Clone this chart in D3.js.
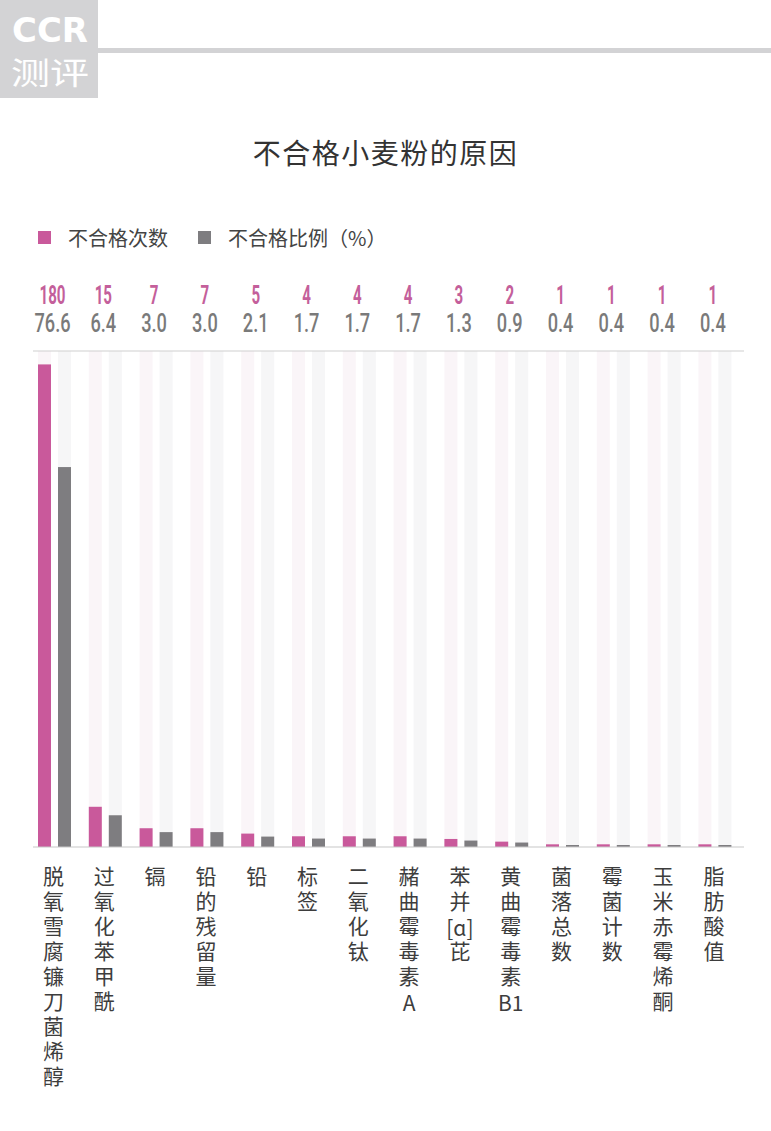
<!DOCTYPE html>
<html>
<head>
<meta charset="utf-8">
<script src="https://cdn.jsdelivr.net/npm/d3@7"></script>
<style>
  body { margin: 0; background: #fff; }
  svg { display: block; }
  text { font-family: "Noto Sans CJK SC", "Noto Sans", sans-serif; }
</style>
</head>
<body>
<div class="chart"></div>
<script>
// data
const categories = ["脱氧雪腐镰刀菌烯醇", "过氧化苯甲酰", "镉", "铅的残留量", "铅", "标签", "二氧化钛",
  "赭曲霉毒素A", "苯并[ɑ]芘", "黄曲霉毒素B1", "菌落总数", "霉菌计数", "玉米赤霉烯酮", "脂肪酸值"];
// label pieces: CJK runs are set vertically, latin runs horizontally
const labelParts = [
  ["脱氧雪腐镰刀菌烯醇"],
  ["过氧化苯甲酰"],
  ["镉"],
  ["铅的残留量"],
  ["铅"],
  ["标签"],
  ["二氧化钛"],
  ["赭曲霉毒素", "A"],
  ["苯并", "[ɑ]", "芘"],
  ["黄曲霉毒素", "B1"],
  ["菌落总数"],
  ["霉菌计数"],
  ["玉米赤霉烯酮"],
  ["脂肪酸值"]
];
const counts = [180, 15, 7, 7, 5, 4, 4, 4, 3, 2, 1, 1, 1, 1];
const percents = [76.6, 6.4, 3.0, 3.0, 2.1, 1.7, 1.7, 1.7, 1.3, 0.9, 0.4, 0.4, 0.4, 0.4];
const seriesNames = ["不合格次数", "不合格比例（%）"];

const W = 771, H = 1131;
const pink = "#c9599b", grey = "#7e7d80";
const plotTop = 351, plotBase = 847;

const svg = d3.select(".chart").append("svg")
    .attr("width", W)
    .attr("height", H);

// header logo
svg.append("rect").attr("x", 0).attr("y", 0).attr("width", 98).attr("height", 98).attr("fill", "#d3d3d5");
svg.append("rect").attr("x", 98).attr("y", 48).attr("width", W - 98).attr("height", 5).attr("fill", "#d3d3d5");
svg.append("text")
    .attr("x", 12).attr("y", 42)
    .attr("textLength", 76).attr("lengthAdjust", "spacingAndGlyphs")
    .style("font-family", "'DejaVu Sans'")
    .style("font-weight", "bold")
    .style("font-size", "33px")
    .attr("fill", "#fff")
    .text("CCR");
svg.append("text")
    .attr("x", 11).attr("y", 84)
    .attr("textLength", 78).attr("lengthAdjust", "spacingAndGlyphs")
    .style("font-size", "31px")
    .attr("fill", "#fff")
    .text("测评");

// title
svg.append("text")
    .attr("x", W / 2).attr("y", 164)
    .attr("text-anchor", "middle")
    .style("font-size", "28px")
    .style("letter-spacing", "1.5px")
    .attr("fill", "#333")
    .text("不合格小麦粉的原因");

// legend
const legend = svg.append("g");
[[38, pink], [198, grey]].forEach((d, i) => {
  legend.append("rect").attr("x", d[0]).attr("y", 231).attr("width", 13).attr("height", 13).attr("fill", d[1]);
  legend.append("text")
      .attr("x", d[0] + 30).attr("y", 246)
      .style("font-size", "20px")
      .attr("fill", "#444")
      .text(seriesNames[i]);
});

// scales
const x = d3.scaleBand()
    .domain(categories)
    .range([33, 33 + 14 * 50.8]);

const x1 = d3.scaleBand()
    .domain(["count", "pct"])
    .range([5, 38])
    .paddingInner(0.35);

const yCount = d3.scaleLinear().domain([0, 185]).range([plotBase, plotTop]);
const yPct = d3.scaleLinear().domain([0, 100]).range([plotBase, plotTop]);

const data = categories.map((c, i) => ({ cat: c, count: counts[i], pct: percents[i], parts: labelParts[i] }));

// background stripes
const stripes = svg.append("g");
data.forEach(d => {
  stripes.append("rect")
      .attr("x", x(d.cat) + x1("count")).attr("y", plotTop)
      .attr("width", x1.bandwidth()).attr("height", plotBase - plotTop)
      .attr("fill", "#faf5f8");
  stripes.append("rect")
      .attr("x", x(d.cat) + x1("pct")).attr("y", plotTop)
      .attr("width", x1.bandwidth()).attr("height", plotBase - plotTop)
      .attr("fill", "#f6f6f7");
});

// top line
svg.append("line").attr("x1", 33).attr("x2", 744).attr("y1", plotTop).attr("y2", plotTop)
    .attr("stroke", "#d0d0d0").attr("stroke-width", 1.2);

// bars
svg.append("g").selectAll("rect")
    .data(data).enter().append("rect")
    .attr("x", d => x(d.cat) + x1("count"))
    .attr("y", d => yCount(d.count))
    .attr("width", x1.bandwidth())
    .attr("height", d => plotBase - yCount(d.count))
    .attr("fill", pink);

svg.append("g").selectAll("rect")
    .data(data).enter().append("rect")
    .attr("x", d => x(d.cat) + x1("pct"))
    .attr("y", d => yPct(d.pct))
    .attr("width", x1.bandwidth())
    .attr("height", d => plotBase - yPct(d.pct))
    .attr("fill", grey);

svg.append("line").attr("x1", 33).attr("x2", 744).attr("y1", plotBase).attr("y2", plotBase)
    .attr("stroke", "#c8c8c8").attr("stroke-width", 1.2);

// value labels (condensed look via horizontal scaling)
const cx = d => x(d.cat) + (x1("count") + x1("pct") + x1.bandwidth()) / 2 - 2;

svg.append("g").selectAll("text")
    .data(data).enter().append("text")
    .attr("transform", d => `translate(${cx(d)},304) scale(0.58,1)`)
    .attr("text-anchor", "middle")
    .style("font-family", "Roboto, sans-serif")
    .style("font-weight", "bold")
    .style("font-size", "26px")
    .attr("fill", "#c45f9b")
    .text(d => d.count);

svg.append("g").selectAll("text")
    .data(data).enter().append("text")
    .attr("transform", d => `translate(${cx(d)},332) scale(0.7,1)`)
    .attr("text-anchor", "middle")
    .style("font-family", "Roboto, sans-serif")
    .style("font-weight", 500)
    .style("font-size", "26px")
    .attr("fill", "#7a7a7a")
    .text(d => d.pct.toFixed(1));

// vertical category labels
const labels = svg.append("g");
const step = 25, fs = 21;
data.forEach(d => {
  let yy = 866;
  d.parts.forEach(p => {
    const latin = /[A-Za-z0-9\[\]ɑ]/.test(p);
    if (latin) {
      labels.append("text")
          .attr("x", cx(d) + 1)
          .attr("y", yy + 20)
          .attr("text-anchor", "middle")
          .style("font-size", `${fs}px`)
          .attr("fill", "#3d3d3d")
          .text(p);
      yy += step;
    } else {
      labels.append("text")
          .attr("x", cx(d) + 1)
          .attr("y", yy)
          .style("writing-mode", "vertical-rl")
          .style("text-orientation", "upright")
          .style("letter-spacing", `${step - fs}px`)
          .style("font-size", `${fs}px`)
          .attr("fill", "#3d3d3d")
          .text(p);
      yy += p.length * step;
    }
  });
});
</script>
</body>
</html>
